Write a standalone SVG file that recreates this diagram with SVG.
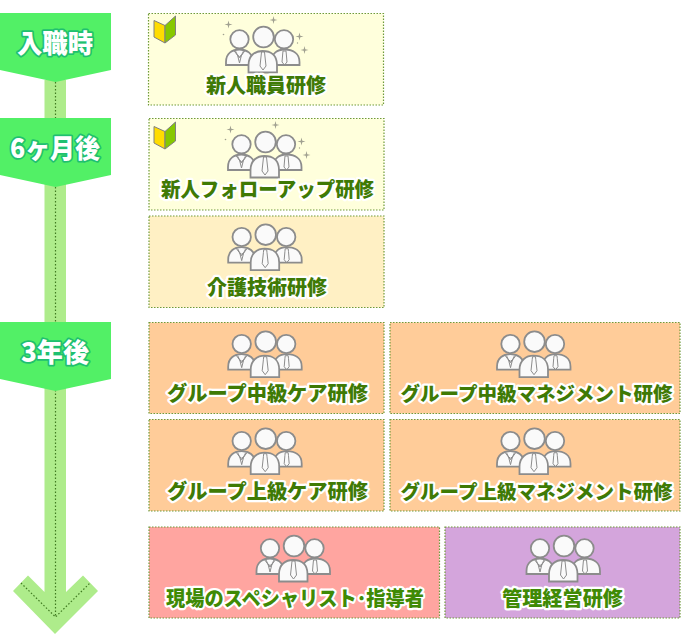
<svg xmlns="http://www.w3.org/2000/svg" width="681" height="642" viewBox="0 0 681 642">
<style>
.card{stroke:#6f9a3a;stroke-width:1.2;stroke-dasharray:1.500 1.500}
.lbl{font-family:"Noto Sans CJK JP","Noto Sans",sans-serif;font-weight:900;font-size:20.5px;text-anchor:middle;fill:#3f7a05;stroke:#fff;stroke-width:4.5px;stroke-linejoin:round;paint-order:stroke fill}
.lbl.w{font-size:19.5px}
.hd{font-family:"Noto Sans CJK JP","Noto Sans",sans-serif;font-weight:900;font-size:26px;text-anchor:middle;fill:#fff;stroke:#1fc070;stroke-width:3.5px;stroke-linejoin:round;paint-order:stroke fill}
.p{fill:#fafafa;stroke:#8c8c8c;stroke-width:1.800}
.t{fill:none;stroke:#8c8c8c;stroke-width:1}
.ar{fill:#aeec8b}
.dot{fill:none;stroke:#3f7a20;stroke-width:1.2;stroke-dasharray:1.500 2}
.pent{fill:#52f066}
.sp{fill:#a0a090}
</style>
<defs>
<path id="star" d="M0 -4L0.800 -0.800L4 0L0.800 0.800L0 4L-0.800 0.800L-4 0L-0.800 -0.800Z"/>
<g id="people">
<circle class="p" cx="-24" cy="2.300" r="9.200"/>
<circle class="p" cx="20.500" cy="2.300" r="9.200"/>
<path class="p" d="M-37.500 28V25C-37.500 16 -31 12.500 -24 12.500C-17 12.500 -10.500 16 -10.500 25V28Z"/>
<path class="p" d="M8 28V25C8 16 14 12.500 21 12.500C29 12.500 36 16 36 25V28Z"/>
<path class="t" d="M-30 13L-24 21L-18 13M-28 14Q-24 25 -20 14M-26 18L-24 26L-22 18"/>
<path class="t" d="M19.500 14H22.500L22.800 17L23.500 25L21 28L18.500 25L19.200 17Z"/>
<circle class="p" cx="0" cy="0" r="10.300"/>
<path class="p" d="M-15 35.500V28C-15 18 -8 14 -1 14C7 14 13.500 18 13.500 28V35.500Z"/>
<path class="t" d="M-2 15H1L1.300 18L2.500 29L-0.500 33L-3.500 29L-2.300 18Z"/>
</g>
<g id="sparkle" class="sp">
<use href="#star" x="-35" y="-12.500"/>
<use href="#star" x="10" y="-17"/>
<use href="#star" x="36" y="-0.500"/>
<use href="#star" x="41" y="13"/>
<circle cx="-40" cy="-2.500" r="0.800"/>
<circle cx="34" cy="6" r="0.700"/>
</g>
<g id="mark">
<path d="M154 20.500L165 25.500V43L154 37Z" fill="#ffdc00" stroke="#808080" stroke-width="1" stroke-linejoin="round"/>
<path d="M165 25.500L175.500 16V35L165 43Z" fill="#86c800" stroke="#808080" stroke-width="1" stroke-linejoin="round"/>
</g>
</defs>
<g id="connectors">
<path class="ar" d="M44.500 80H66V592L83 575.500L98 591L55 634L13 591L28 575.500L44.500 592Z"/>
<path class="dot" d="M55.500 82V617M21 583L55.500 617L90 583"/>
</g>
<g id="stage1"><path class="pent" d="M0 13H111V70L55.500 82L0 70Z"/><text class="hd" x="55" y="53" textLength="76" lengthAdjust="spacingAndGlyphs">入職時</text></g>
<g id="stage2"><path class="pent" d="M0 118H111V175L55.500 187L0 175Z"/><text class="hd" x="55" y="158" textLength="90" lengthAdjust="spacingAndGlyphs">6ヶ月後</text></g>
<g id="stage3"><path class="pent" d="M0 322H111V379L55.500 391L0 379Z"/><text class="hd" x="55" y="362" textLength="68" lengthAdjust="spacingAndGlyphs">3年後</text></g>

<g id="card1"><rect class="card" x="148.500" y="13.500" width="235" height="91.500" fill="#ffffdc"/><use href="#mark"/><use href="#people" x="263.500" y="37"/><use href="#sparkle" x="263.500" y="37"/><text class="lbl" x="266" y="93" textLength="120" lengthAdjust="spacingAndGlyphs">新人職員研修</text></g>
<g id="card2"><rect class="card" x="149" y="118.500" width="235" height="91.500" fill="#ffffdc"/><use href="#mark" y="106"/><use href="#people" x="265.500" y="142"/><use href="#sparkle" x="265.500" y="142"/><text class="lbl" x="267.500" y="197" textLength="213" lengthAdjust="spacingAndGlyphs">新人フォローアップ研修</text></g>
<g id="card3"><rect class="card" x="149" y="216" width="235" height="91.500" fill="#fff0c4"/><use href="#people" x="265.700" y="234.700"/><text class="lbl" x="267" y="295" textLength="120" lengthAdjust="spacingAndGlyphs">介護技術研修</text></g>
<g id="card4"><rect class="card" x="149" y="322.500" width="235" height="91" fill="#ffcc99"/><use href="#people" x="265.700" y="341.700"/><text class="lbl" x="267.500" y="401" textLength="201" lengthAdjust="spacingAndGlyphs">グループ中級ケア研修</text></g>
<g id="card5"><rect class="card" x="390" y="322.500" width="290" height="91" fill="#ffcc99"/><use href="#people" x="534.500" y="341.700"/><text class="lbl w" x="536.500" y="401">グループ中級マネジメント研修</text></g>
<g id="card6"><rect class="card" x="149" y="419.500" width="235" height="91.500" fill="#ffcc99"/><use href="#people" x="265.700" y="438.700"/><text class="lbl" x="267.500" y="499" textLength="201" lengthAdjust="spacingAndGlyphs">グループ上級ケア研修</text></g>
<g id="card7"><rect class="card" x="390" y="419.500" width="290" height="91.500" fill="#ffcc99"/><use href="#people" x="534.500" y="438.700"/><text class="lbl w" x="536.500" y="499">グループ上級マネジメント研修</text></g>
<g id="card8"><rect class="card" x="149" y="527" width="290.500" height="91" fill="#ffa5a0"/><use href="#people" x="294" y="546"/><text class="lbl" style="fill:#3f8a05" x="295" y="606" textLength="258" lengthAdjust="spacingAndGlyphs">現場のスペシャリスト･指導者</text></g>
<g id="card9"><rect class="card" x="445" y="527" width="235" height="91" fill="#d4a5dc"/><use href="#people" x="564" y="546"/><text class="lbl" style="fill:#3f8a05" x="562.500" y="606" textLength="121" lengthAdjust="spacingAndGlyphs">管理経営研修</text></g>
</svg>
